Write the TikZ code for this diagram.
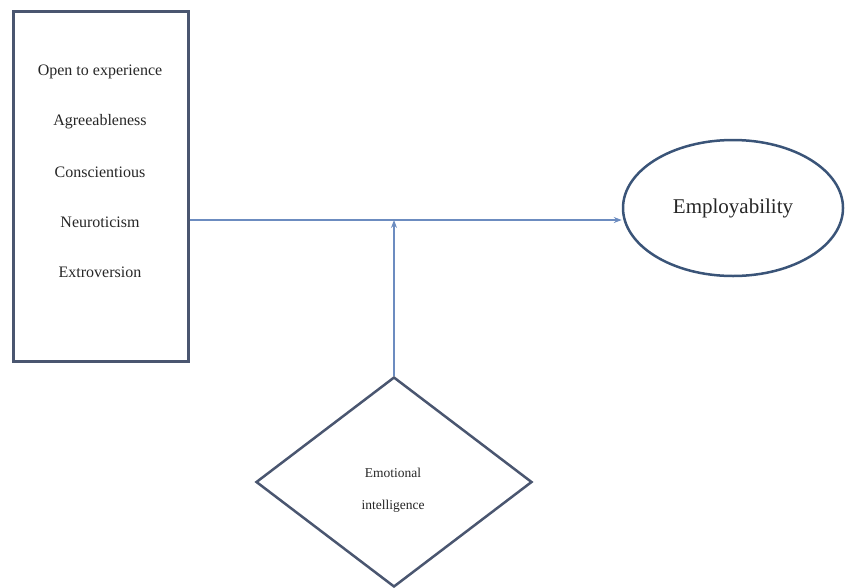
\documentclass[tikz,border=0pt]{standalone}
\usepackage{fontspec}
\setmainfont{Liberation Serif}
\usetikzlibrary{arrows.meta}
\usetikzlibrary{shapes.geometric, positioning, arrows}

\definecolor{boxline}{HTML}{4A5670}
\definecolor{ovalline}{HTML}{3A5478}
\definecolor{arrowline}{HTML}{6C8CC0}
\definecolor{inktext}{HTML}{262626}

\begin{document}
\begin{tikzpicture} [
	x=1pt, y=-1pt, % one unit per pixel, y grows downwards
	>={Stealth[length=8pt, width=6pt]}, % small filled arrow heads
	traitbox/.style={draw=boxline, line width=3pt, minimum width=175pt, minimum height=350pt}, % box round the five traits
	trait/.style={font=\fontsize{16}{18}\selectfont, text=inktext},
	outcome/.style={ellipse, draw=ovalline, line width=2.5pt, minimum width=220pt, minimum height=136pt, font=\fontsize{21}{24}\selectfont, text=inktext},
	moderator/.style={diamond, draw=boxline, line width=2.5pt, minimum width=276pt, minimum height=210pt},
	modtext/.style={align=center, font=\fontsize{13.5}{32}\selectfont, text=inktext},
	link/.style={->, draw=arrowline, line width=1.2pt},
	]
	\useasboundingbox (0,0) rectangle (845,587);

	\node[traitbox] (traits) at (100.5,186) {};
	\foreach \name/\txt/\ypos in {open/Open to experience/72, agree/Agreeableness/122, consc/Conscientious/172, neuro/Neuroticism/222, extro/Extroversion/272}
		\node[trait] (\name) at (100,\ypos) {\txt};

	\node[outcome] (emp) at (733,208) {Employability};

	\node[moderator] (ei) at (394,482) {};
	\node[modtext] (eitext) at (393,490) {Emotional\\intelligence};

	\coordinate (split) at (traits.east |- 0,220);
	\draw[link] (split) -- (emp.west |- split);
	\draw[link] (ei.north) -- (ei.north |- split);
\end{tikzpicture}
\end{document}
